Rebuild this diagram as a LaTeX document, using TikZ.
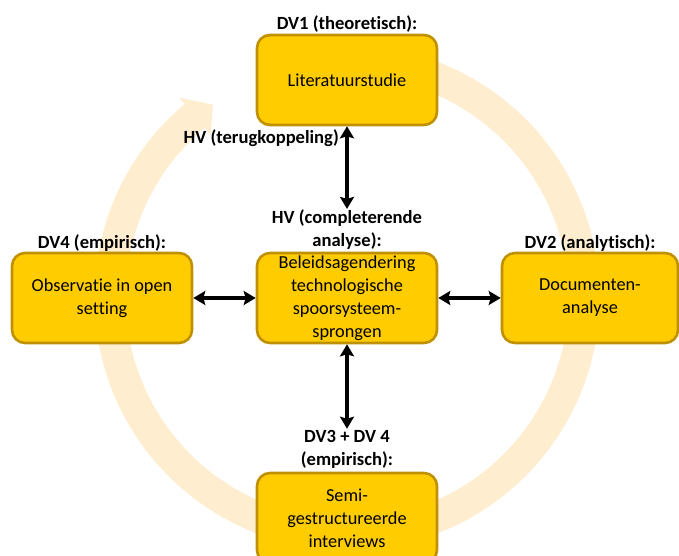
\documentclass[tikz,border=0pt]{standalone}
\usepackage{fontspec}
\setmainfont{Carlito}[Ligatures={NoCommon,NoContextual,NoRequired},Contextuals=NoAlternate]
\usetikzlibrary{arrows.meta}
\definecolor{boxfill}{HTML}{FFCC00}
\definecolor{boxline}{HTML}{BF9000}
\definecolor{ringc}{HTML}{FFEDCF}
\begin{document}
\begin{tikzpicture}[x=1pt,y=1pt,
  stagebox/.style={draw=boxline, fill=boxfill, line width=2.6pt, rounded corners=13pt,
    minimum width=180pt, minimum height=90pt, inner sep=0pt, align=center,
    font=\fontsize{18.3}{23}\selectfont},
  lbl/.style={inner sep=1pt, align=center, font=\fontsize{18.6}{23}\selectfont\bfseries},
  link/.style={line width=3.4pt, {Stealth[length=12pt,width=14pt,inset=2pt]}-{Stealth[length=12pt,width=14pt,inset=2pt]}}]
\useasboundingbox (0,0) rectangle (679,556);
\clip (0,0) rectangle (679,556);

% circular cycle arrow in the background
\coordinate (cc) at (347,258.5);
\draw[ringc, line width=31pt] ([shift={(100:237)}]cc) arc[start angle=100, end angle=-230, radius=237pt];
\begin{scope}[shift={(cc)}]
  \fill[ringc] (130:261) -- (124.8:235) -- (130:212) -- cycle;
\end{scope}

% research stages (\kern0pt keeps "t" and "i" as separate glyphs)
\node[stagebox] (lit) at (347,476) {Literatuurstudie};
\node[stagebox] (obs) at (102,258) {Observat\kern0pt ie in open\\setting};
\node[stagebox] (core) at (347,258) {Beleidsagendering\\technologische\\spoorsysteem-\\sprongen};
\node[stagebox, minimum width=176pt] (doc) at (590,258) {Documenten-\\analyse};
\node[stagebox] (int) at (347,38) {Semi-\\gestructureerde\\interviews};

% labels
\node[lbl] (l1) at (347,531.5) {DV1 (theoret\kern0pt isch):};
\node[lbl, anchor=east] (lfb) at (340,418) {HV (terugkoppeling)};
\node[lbl] (lhv) at (347,326) {HV (completerende\\analyse):};
\node[lbl] (l4) at (102,313) {DV4 (empirisch):};
\node[lbl] (l2) at (590,313) {DV2 (analyt\kern0pt isch):};
\node[lbl] (l3) at (347,107) {DV3 + DV 4\\(empirisch):};

% connections
\draw[link] (lit.south) -- (lhv.north);
\draw[link] (core.south) -- (l3.north);
\draw[link] (obs.east) -- (core.west);
\draw[link] (core.east) -- (doc.west);
\end{tikzpicture}
\end{document}
